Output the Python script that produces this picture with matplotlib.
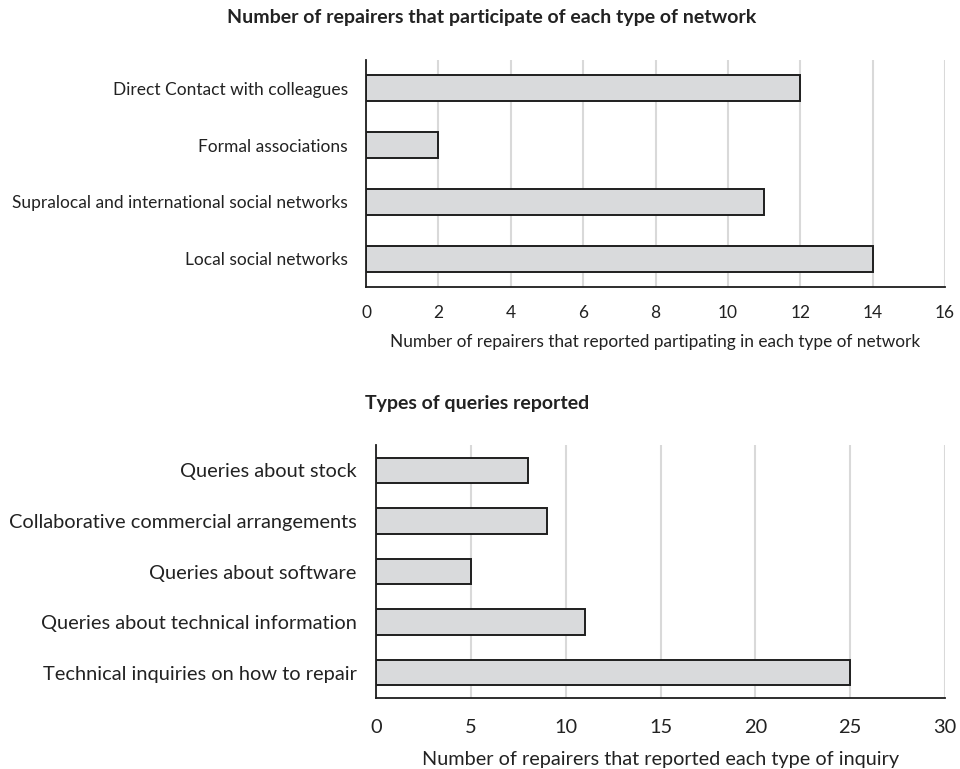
import matplotlib
matplotlib.use("Agg")
import matplotlib.pyplot as plt

# Data
network_types = [
    "Direct Contact with colleagues",
    "Formal associations",
    "Supralocal and international social networks",
    "Local social networks",
]
network_counts = [12, 2, 11, 14]

query_types = [
    "Queries about stock",
    "Collaborative commercial arrangements",
    "Queries about software",
    "Queries about technical information",
    "Technical inquiries on how to repair",
]
query_counts = [8, 9, 5, 11, 25]

plt.rcParams['font.family'] = ['Lato', 'DejaVu Sans']

W, H = 960, 769
fig = plt.figure(figsize=(W / 100, H / 100), dpi=100)

bar_face = '#d9dadc'
bar_edge = '#1e1e1e'
grid_col = '#d9d9d9'
text_col = '#222222'


def px_axes(x0, y0, x1, y1):
    # pixel box (top-left origin) -> figure fraction
    return fig.add_axes([x0 / W, 1 - y1 / H, (x1 - x0) / W, (y1 - y0) / H])


def style(ax, xmax, step, labelsize, ticksize, ypad, xpad):
    ax.set_xlim(0, xmax)
    ax.set_xticks(range(0, xmax + 1, step))
    ax.grid(axis='x', color=grid_col, linewidth=1.5)
    ax.set_axisbelow(True)
    for s in ['top', 'right']:
        ax.spines[s].set_visible(False)
    for s in ['left', 'bottom']:
        ax.spines[s].set_color('#1e1e1e')
        ax.spines[s].set_linewidth(1.3)
    ax.tick_params(axis='both', length=0, colors=text_col)
    ax.tick_params(axis='y', labelsize=labelsize, pad=ypad)
    ax.tick_params(axis='x', labelsize=ticksize, pad=xpad)


# top chart
ax1 = px_axes(366, 60, 945, 287)
ax1.barh(range(len(network_types)), network_counts, height=0.46,
         color=bar_face, edgecolor=bar_edge, linewidth=1.4)
ax1.set_ylim(len(network_types) - 0.5, -0.5)
ax1.set_yticks(range(len(network_types)))
ax1.set_yticklabels(network_types)
style(ax1, 16, 2, 12.5, 12.5, 13, 13)
ax1.set_xlabel("Number of repairers that reported partipating in each type of network",
               fontsize=12.4, color=text_col, labelpad=9)
fig.text(492 / W, 1 - 18 / H, "Number of repairers that participate of each type of network",
         ha='center', va='center', fontsize=14, fontweight='bold', color=text_col)

# bottom chart
ax2 = px_axes(376, 445, 945, 698)
ax2.barh(range(len(query_types)), query_counts, height=0.5,
         color=bar_face, edgecolor=bar_edge, linewidth=1.4)
ax2.set_ylim(len(query_types) - 0.5, -0.5)
ax2.set_yticks(range(len(query_types)))
ax2.set_yticklabels(query_types)
style(ax2, 30, 5, 14.4, 14.4, 14, 15)
ax2.set_xlabel("Number of repairers that reported each type of inquiry",
               fontsize=14.3, color=text_col, labelpad=11)
fig.text(365 / W, 1 - 404 / H, "Types of queries reported",
         ha='left', va='center', fontsize=14, fontweight='bold', color=text_col)

fig.savefig("out.png", dpi=100)
